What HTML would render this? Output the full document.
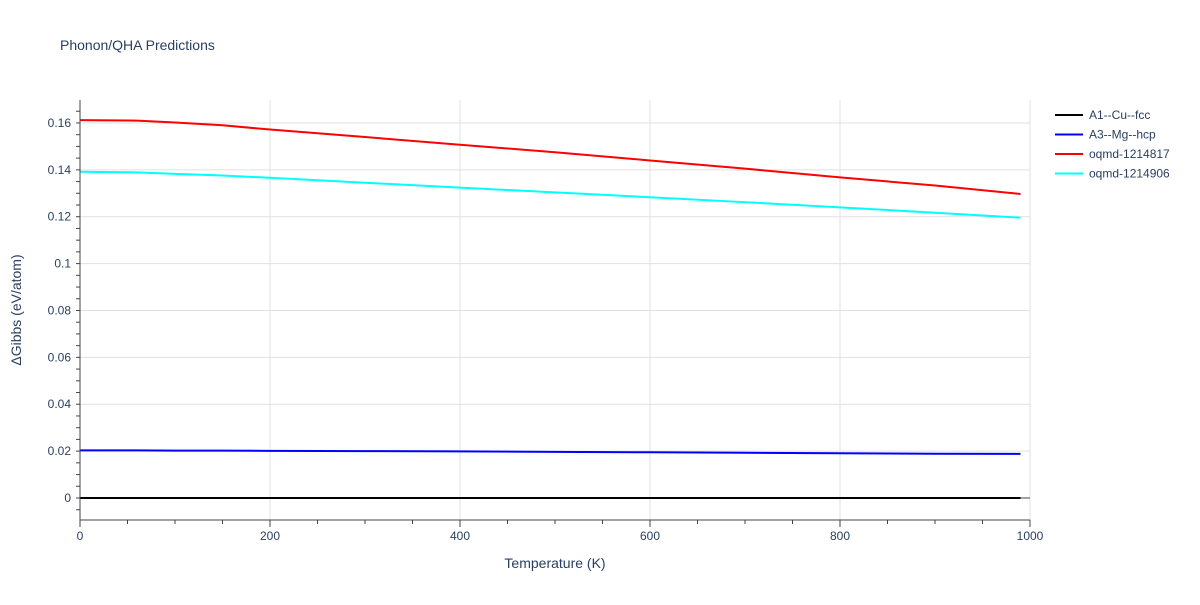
<!DOCTYPE html>
<html><head><meta charset="utf-8"><style>
body{margin:0;background:#fff;font-family:"Liberation Sans",sans-serif}
text{font-family:"Liberation Sans",sans-serif}
</style></head><body>
<svg id="c" width="1200" height="600" xmlns="http://www.w3.org/2000/svg">
<text x="60" y="50" font-size="14" fill="#2a3f5f">Phonon/QHA Predictions</text>
<g id="grid"></g><g id="series"></g><g id="axes"></g>
<text x="555" y="568" font-size="14" fill="#2a3f5f" text-anchor="middle">Temperature (K)</text>
<text transform="translate(21,310) rotate(-90)" font-size="14" fill="#2a3f5f" text-anchor="middle">ΔGibbs (eV/atom)</text>
<g id="legend"></g>
</svg>
<script>
const temps=[0,60,100,150,200,300,400,500,600,700,800,900,990];
const names=["A1--Cu--fcc","A3--Mg--hcp","oqmd-1214817","oqmd-1214906"];
const colors=["#000000","#0000ff","#ff0000","#00ffff"];
const cu=[0,0,0,0,0,0,0,0,0,0,0,0,0];
const mg=[0.0203,0.0203,0.0202,0.0202,0.0201,0.0200,0.0199,0.0197,0.0195,0.0193,0.0191,0.0189,0.0188];
const r=[0.1612,0.1610,0.1602,0.1590,0.1572,0.1540,0.1507,0.1475,0.1440,0.1405,0.1368,0.1333,0.1297];
const cy=[0.1392,0.1389,0.1383,0.1376,0.1366,0.1345,0.1324,0.1304,0.1283,0.1262,0.1240,0.1217,0.1196];
const xTicks=[0,200,400,600,800,1000];
const yTicks=[0,0.02,0.04,0.06,0.08,0.1,0.12,0.14,0.16];
const yLabels=["0","0.02","0.04","0.06","0.08","0.1","0.12","0.14","0.16"];
const X=v=>80+v*0.95, Y=v=>498-v*2344;
const NS="http://www.w3.org/2000/svg";
const TC="#2a3f5f";
function mk(p,t,a){const e=document.createElementNS(NS,t);for(const k in a)e.setAttribute(k,a[k]);document.getElementById(p).appendChild(e);return e;}
xTicks.forEach((t,i)=>{
 const l=mk("grid","line",{x1:X(t),x2:X(t),y1:100,y2:520,stroke:"#e1e1e1"});
 
 
 const tx=mk("axes","text",{x:X(t),y:540,"font-size":12,fill:TC,"text-anchor":"middle"});tx.textContent=t;
 
 
});
for(let t=0;t<=1000;t+=50){const l=mk("axes","line",{x1:X(t),x2:X(t),y1:520,y2:t%200?524:527,stroke:"#444"});
 
 }
for(let v=-0.005;v<=0.17;v+=0.005){const l=mk("axes","line",{x1:76,x2:80,y1:Y(v),y2:Y(v),stroke:"#444"});
 
 }
yTicks.forEach((t,i)=>{
 const l=mk("grid","line",{x1:80,x2:1030,y1:Y(t),y2:Y(t),stroke:t===0?"#444":"#e1e1e1"});
 
 
 const tx=mk("axes","text",{x:71,y:Y(t)+4,"font-size":12,fill:TC,"text-anchor":"end"});tx.textContent=yLabels[i];
 
 
});
const ax=mk("axes","line",{x1:80,x2:80,y1:100,y2:520,stroke:"#444"});


const ax2=mk("axes","line",{x1:80,x2:1030,y1:520,y2:520,stroke:"#444"});


[cu,mg,r,cy].forEach((s,i)=>{
 const p=mk("series","polyline",{points:s.map((v,j)=>X(temps[j])+","+Y(v)).join(" "),fill:"none",stroke:colors[i],"stroke-width":2});
 
 
 const ly=115+i*19.5;
 const l=mk("legend","line",{x1:1055,x2:1083,y1:ly,y2:ly,stroke:colors[i],"stroke-width":2});
 
 
 const t=mk("legend","text",{x:1089,y:ly+4,"font-size":12,fill:TC});t.textContent=names[i];
 
 
});
</script>
</body></html>
